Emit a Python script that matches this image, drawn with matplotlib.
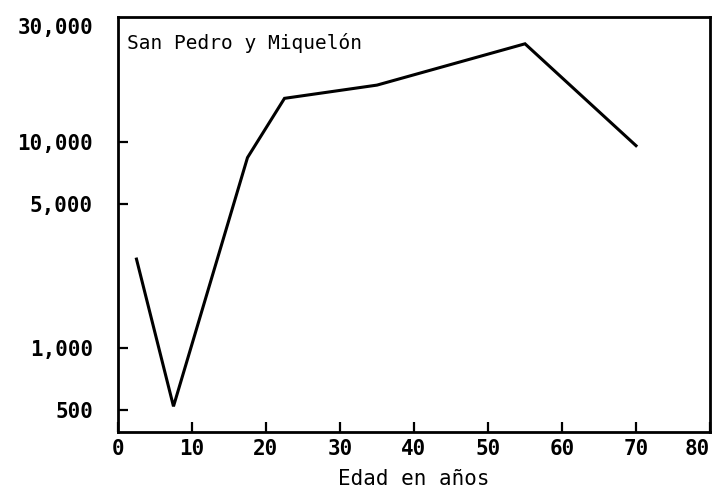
import matplotlib
matplotlib.use('Agg')
import matplotlib.pyplot as plt

edad = [2.5, 7.5, 17.5, 22.5, 35, 55, 70]
valores = [2700, 520, 8400, 16300, 18900, 30000, 9600]
yticks = [500, 1000, 5000, 10000]
ytick_labels = ['500', '1,000', '5,000', '10,000']
xticks = [0, 10, 20, 30, 40, 50, 60, 70, 80]

plt.rcParams['font.family'] = 'DejaVu Sans Mono'

fig = plt.figure(figsize=(7.26, 4.91), dpi=100)
ax = fig.add_axes([0.1625, 0.12, 0.8155, 0.845])

ax.plot(edad, valores, color='black', linewidth=2.2, solid_joinstyle='miter')
ax.set_yscale('log')
ax.set_xlim(0, 80)
ax.set_ylim(390, 40400)

ax.set_yticks(yticks)
ax.set_yticklabels(ytick_labels)
ax.minorticks_off()
ax.set_xticks(xticks)
ax.set_xticklabels([str(t) for t in xticks])
ax.tick_params(direction='in', length=7, width=1.6, labelsize=15)
ax.tick_params(axis='y', pad=18)
ax.tick_params(axis='x', pad=5)
for lbl in ax.get_xticklabels() + ax.get_yticklabels():
    lbl.set_fontweight('bold')
# the 80 sits left of its tick so it stays inside the page
ax.get_xticklabels()[-1].set_horizontalalignment('right')

# top label has no tick mark in the original
ax.text(-0.042, 0.975, '30,000', transform=ax.transAxes, ha='right', va='center',
        fontsize=15, fontweight='bold')

for s in ax.spines.values():
    s.set_linewidth(2)

ax.text(0.016, 0.937, 'San Pedro y Miquelón', transform=ax.transAxes,
        fontsize=14, ha='left', va='center')
ax.set_xlabel('Edad en años', fontsize=15, labelpad=7)

fig.savefig('out.png', dpi=100)
